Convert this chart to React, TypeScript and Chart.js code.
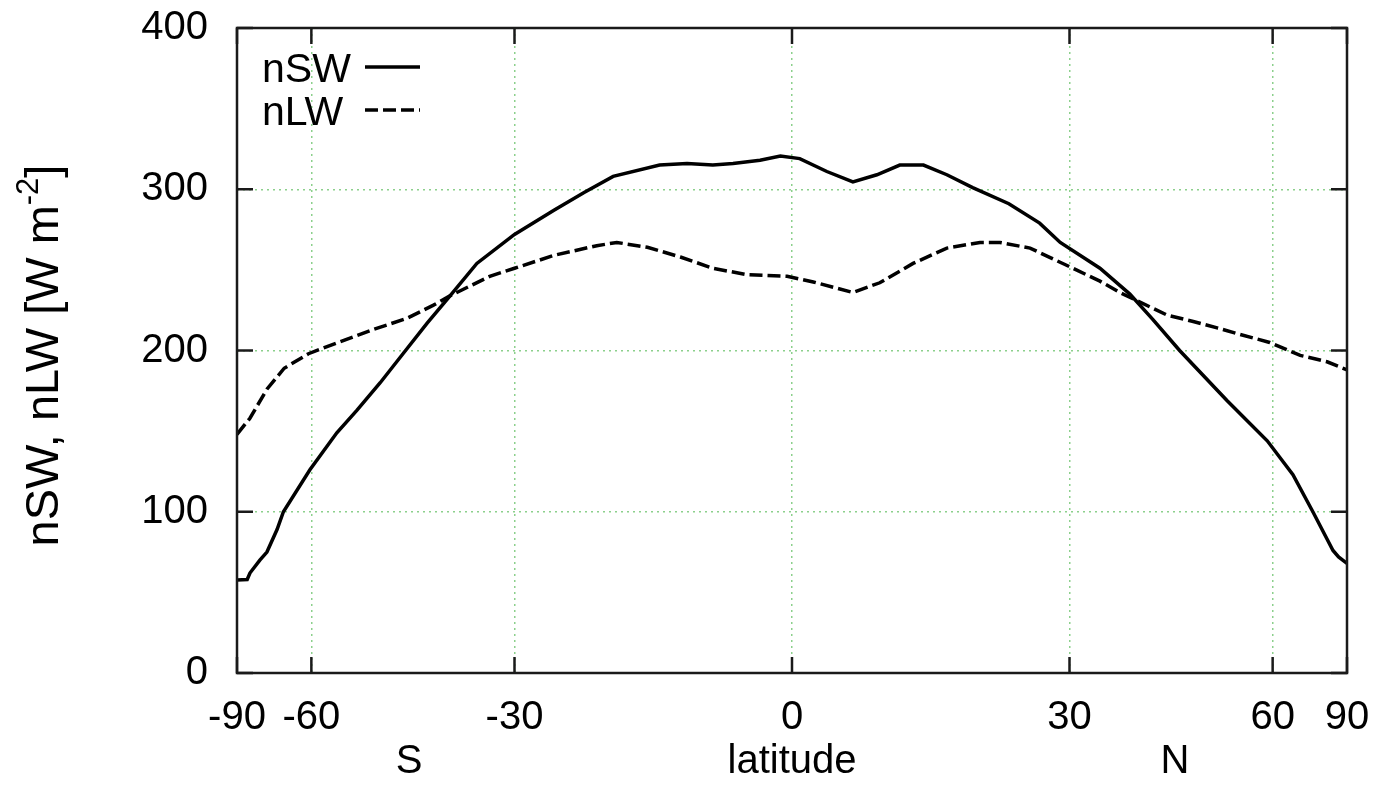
import React, { useEffect, useRef } from 'react';
import { Chart, registerables } from 'chart.js';

Chart.register(...registerables);

// latitude (deg) and net shortwave [W m^-2]
const latSW = [-90, -79, -77.6, -73.5, -71.1, -68.1, -66.4, -60.3, -55.1, -51.6, -47.9, -44.5, -41.1, -38.2, -34.6, -30, -25.4, -22.0, -18.8, -13.8, -10.9, -8.2, -6.1, -3.3, -1.2, 0.8, 3.6, 6.3, 8.8, 11.2, 13.7, 16.2, 19.0, 23.0, 26.5, 28.9, 33.7, 37.5, 40.6, 44.3, 51.6, 58.9, 64.5, 69.8, 77.1, 80, 90];
const nSW = [57.7, 58, 62, 70, 75, 89, 100, 126, 149, 163, 180, 198, 217, 233, 254, 272, 287, 298, 308, 315, 316, 315, 316, 318, 320.6, 319, 311, 304.5, 309, 315, 315, 309, 301, 291, 279, 267, 251, 235, 219, 200, 169, 144, 123, 100, 76, 72, 68];

// latitude (deg) and net longwave [W m^-2]
const latLW = [-90, -77.6, -71.1, -66.2, -60.6, -54.5, -49, -43.9, -40.3, -38.0, -33.0, -30, -25.4, -20.6, -18.4, -15.1, -11.6, -8.2, -4.65, -0.5, 2.2, 6.3, 9.1, 12.6, 16.2, 19.8, 22.0, 25.4, 30, 33.7, 36.2, 42.5, 46.3, 50, 53.8, 59.4, 66.3, 74.6, 90];
const nLW = [148, 158, 176, 189, 198, 205.5, 213, 220, 228, 234, 246, 251, 259, 265, 267, 264, 258, 251, 247, 246, 242.5, 236, 242, 254, 263.5, 267, 267, 263.5, 252, 243, 236, 222, 218, 214, 210, 205, 197, 193, 188];

const xTickLats = [-90, -60, -30, 0, 30, 60, 90];
const yTicks = [0, 100, 200, 300, 400];
const seriesLabels = ['nSW', 'nLW'];
const xAxisTitle = 'latitude';
const hemiLabels = ['S', 'N'];
const yTitleMain = 'nSW, nLW [W m';
const yTitleSup = '-2';
const yTitleEnd = ']';

const FONT = "'Liberation Sans', Arial, Helvetica, sans-serif";
const toX = (lat: number) => Math.sin((lat * Math.PI) / 180);

const decorPlugin = {
  id: 'decor',
  afterDraw(chart: any) {
    const { ctx, chartArea: a, scales } = chart;
    const xs = scales.x;
    const ys = scales.y;
    ctx.save();
    const line = (x1: number, y1: number, x2: number, y2: number) => {
      ctx.beginPath();
      ctx.moveTo(x1, y1);
      ctx.lineTo(x2, y2);
      ctx.stroke();
    };
    // inward ticks (mirrored)
    ctx.strokeStyle = '#1a1a1a';
    ctx.lineWidth = 2.5;
    const tl = 16;
    xTickLats.forEach((lat) => {
      const px = xs.getPixelForValue(toX(lat));
      line(px, a.bottom, px, a.bottom - tl);
      line(px, a.top, px, a.top + tl);
    });
    yTicks.forEach((v) => {
      const py = ys.getPixelForValue(v);
      line(a.left, py, a.left + tl, py);
      line(a.right, py, a.right - tl, py);
    });
    // frame
    ctx.strokeRect(a.left, a.top, a.right - a.left, a.bottom - a.top);

    // legend: text then line sample
    ctx.fillStyle = '#000';
    ctx.textAlign = 'left';
    ctx.textBaseline = 'alphabetic';
    ctx.font = `41px ${FONT}`;
    chart.data.datasets.forEach((ds: any, i: number) => {
      const ty = a.top + 54 + i * 43;
      ctx.fillText(ds.label, a.left + 25, ty);
      const ly = a.top + 39 + i * 43;
      ctx.save();
      ctx.strokeStyle = ds.borderColor;
      ctx.lineWidth = ds.borderWidth;
      ctx.setLineDash(ds.borderDash || []);
      line(a.left + 128, ly, a.left + 183, ly);
      ctx.restore();
    });

    // x-axis title and hemisphere labels
    ctx.font = `40px ${FONT}`;
    ctx.textAlign = 'center';
    const by = 773;
    ctx.fillText(xAxisTitle, (a.left + a.right) / 2, by);
    ctx.fillText(hemiLabels[0], xs.getPixelForValue(-0.69), by);
    ctx.fillText(hemiLabels[1], xs.getPixelForValue(0.69), by);

    // y-axis title with superscript
    ctx.save();
    ctx.translate(58, (a.top + a.bottom) / 2 + 5);
    ctx.rotate(-Math.PI / 2);
    ctx.textAlign = 'left';
    const mainFont = `47px ${FONT}`;
    const supFont = `31px ${FONT}`;
    ctx.font = mainFont;
    const w1 = ctx.measureText(yTitleMain).width;
    const w3 = ctx.measureText(yTitleEnd).width;
    ctx.font = supFont;
    const w2 = ctx.measureText(yTitleSup).width;
    const total = w1 + w2 + w3;
    let x0 = -total / 2;
    ctx.font = mainFont;
    ctx.fillText(yTitleMain, x0, 0);
    x0 += w1;
    ctx.font = supFont;
    ctx.fillText(yTitleSup, x0, -20);
    x0 += w2;
    ctx.font = mainFont;
    ctx.fillText(yTitleEnd, x0, 0);
    ctx.restore();

    ctx.restore();
  },
};

export default function App() {
  const ref = useRef<HTMLCanvasElement | null>(null);
  useEffect(() => {
    if (!ref.current) return;
    const gridColor = (c: any) =>
      c.tick && Math.abs(c.tick.value) > 0.999 && c.scale.axis === 'x'
        ? 'rgba(0,0,0,0)'
        : c.tick && (c.tick.value === 0 || c.tick.value === 400) && c.scale.axis === 'y'
        ? 'rgba(0,0,0,0)'
        : 'rgba(120,200,120,0.85)';
    const chart = new Chart(ref.current, {
      type: 'line',
      data: {
        datasets: [
          {
            label: seriesLabels[0],
            data: latSW.map((l, i) => ({ x: toX(l), y: nSW[i] })),
            borderColor: '#000',
            borderWidth: 3.5,
            pointRadius: 0,
            tension: 0,
            fill: false,
          },
          {
            label: seriesLabels[1],
            data: latLW.map((l, i) => ({ x: toX(l), y: nLW[i] })),
            borderColor: '#000',
            borderWidth: 3.5,
            borderDash: [13, 5],
            pointRadius: 0,
            tension: 0,
            fill: false,
          },
        ],
      },
      options: {
        animation: false,
        responsive: false,
        maintainAspectRatio: false,
        layout: { padding: { top: 28, right: 30, left: 0, bottom: 0 } },
        plugins: { legend: { display: false }, tooltip: { enabled: false } },
        scales: {
          x: {
            type: 'linear',
            min: -1,
            max: 1,
            afterFit: (s: any) => {
              s.height = 125;
              s.paddingLeft = 0;
              s.paddingRight = 0;
            },
            afterBuildTicks: (s: any) => {
              s.ticks = xTickLats.map((l) => ({ value: toX(l) }));
            },
            ticks: {
              autoSkip: false,
              maxRotation: 0,
              padding: 21,
              color: '#000',
              font: { family: FONT, size: 40 },
              callback: (v: any) => String(Math.round((Math.asin(Math.max(-1, Math.min(1, Number(v)))) * 180) / Math.PI)),
            },
            grid: { color: gridColor, lineWidth: 1.5, drawTicks: false },
            border: { display: false, dash: [2, 4] },
          },
          y: {
            type: 'linear',
            min: 0,
            max: 400,
            afterFit: (s: any) => {
              s.width = 237;
              s.paddingTop = 0;
              s.paddingBottom = 0;
            },
            afterBuildTicks: (s: any) => {
              s.ticks = yTicks.map((v) => ({ value: v }));
            },
            ticks: {
              padding: 29,
              color: '#000',
              font: { family: FONT, size: 40 },
            },
            grid: { color: gridColor, lineWidth: 1.5, drawTicks: false },
            border: { display: false, dash: [2, 4] },
          },
        },
      },
      plugins: [decorPlugin],
    } as any);
    return () => chart.destroy();
  }, []);
  return (
    <div style={{ position: 'fixed', left: 0, top: 0, width: 1377, height: 798, background: '#fff' }}>
      <canvas ref={ref} width={1377} height={798} style={{ width: 1377, height: 798, display: 'block' }} />
    </div>
  );
}
